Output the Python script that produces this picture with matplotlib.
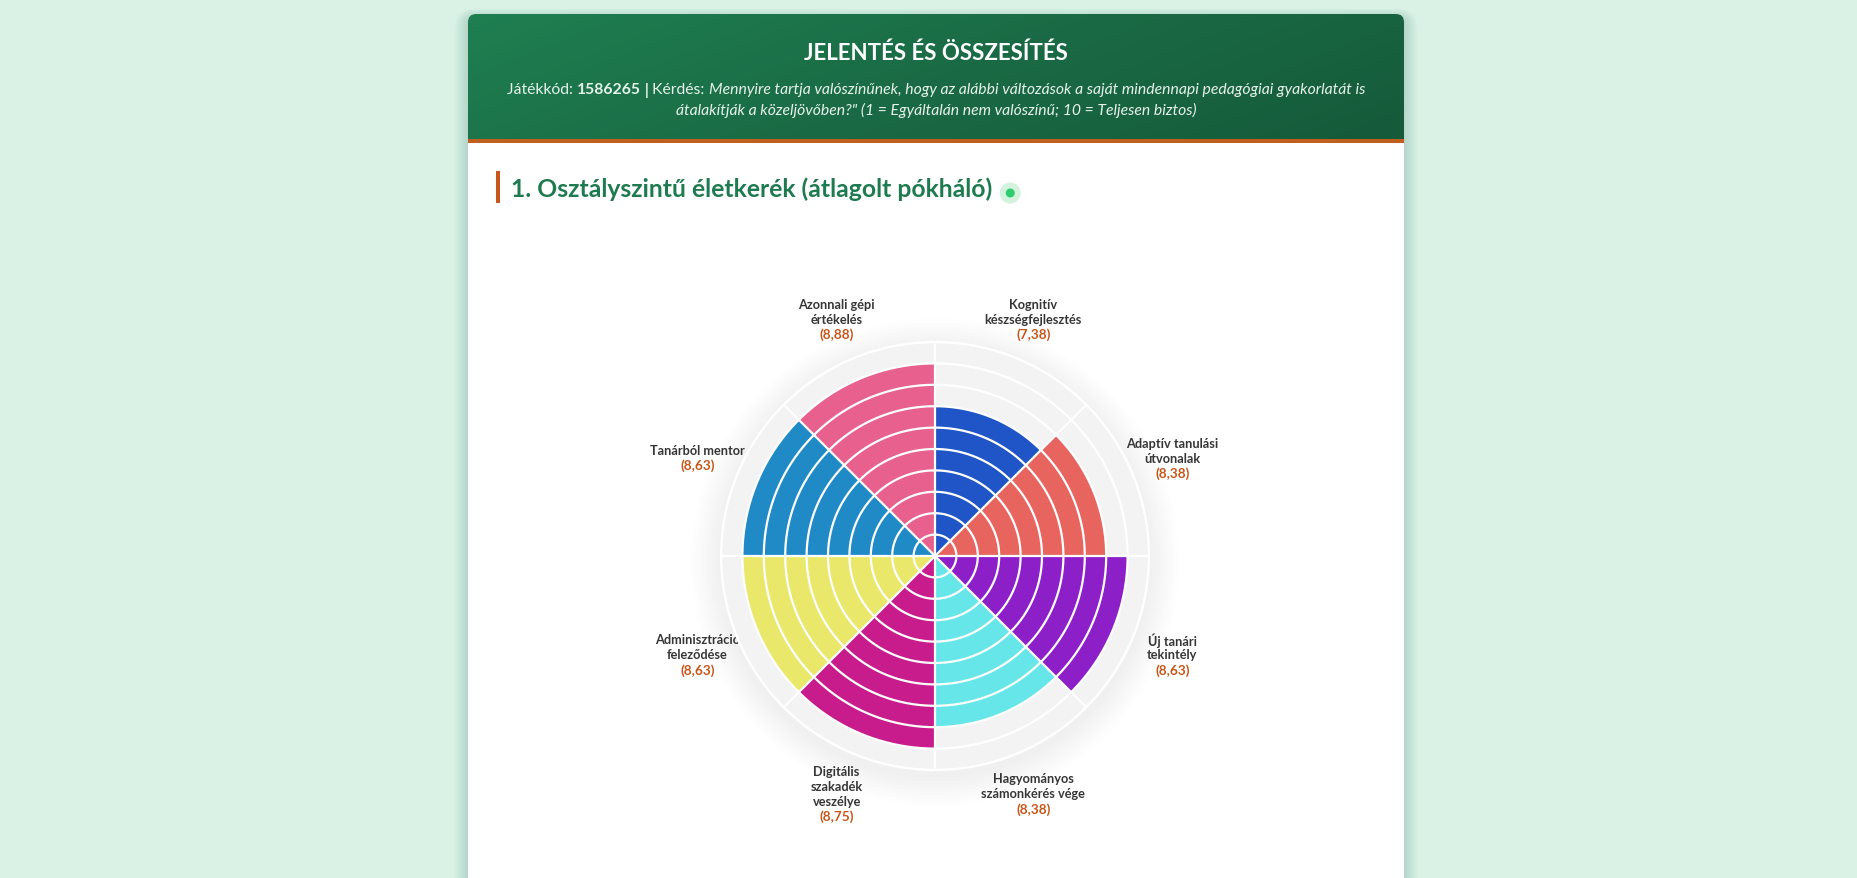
import numpy as np
import matplotlib
matplotlib.use("Agg")
import matplotlib.pyplot as plt
from matplotlib.patches import FancyBboxPatch, Rectangle, Circle
from matplotlib.colors import LinearSegmentedColormap

plt.rcParams['font.family'] = ['Lato', 'DejaVu Sans']

# ---------------- data ----------------
categories = ["Kognitív készségfejlesztés", "Adaptív tanulási útvonalak", "Új tanári tekintély",
              "Hagyományos számonkérés vége", "Digitális szakadék veszélye",
              "Adminisztráció feleződése", "Tanárból mentor", "Azonnali gépi értékelés"]
label_lines = ["Kognitív\nkészségfejlesztés", "Adaptív tanulási\nútvonalak", "Új tanári\ntekintély",
               "Hagyományos\nszámonkérés vége", "Digitális\nszakadék\nveszélye",
               "Adminisztráció\nfeleződése", "Tanárból mentor", "Azonnali gépi\nértékelés"]
scores = [7.38, 8.38, 8.63, 8.38, 8.75, 8.63, 8.63, 8.88]
colors = ["#1f55c6", "#e8645f", "#8d1fc8", "#67e6e9", "#c81c8c", "#e9e86a", "#1f8ac6", "#e8608d"]
scale_max = 10

title = "JELENTÉS ÉS ÖSSZESÍTÉS"
game_code = "1586265"
question_1 = "Mennyire tartja valószínűnek, hogy az alábbi változások a saját mindennapi pedagógiai gyakorlatát is"
question_2 = "átalakítják a közeljövőben?\" (1 = Egyáltalán nem valószínű; 10 = Teljesen biztos)"
section = "1. Osztályszintű életkerék (átlagolt pókháló)"

# ---------------- layout (pixels) ----------------
W, H = 1857, 879
card_x0, card_x1, card_top = 468, 1404, 15
header_bottom = 140
cx, cy, R = 935, 557, 214
label_r = 257
line_gap = 15

fig = plt.figure(figsize=(W / 100, H / 100), dpi=100)
fig.patch.set_facecolor('#d9f2e5')
bg = fig.add_axes([0, 0, 1, 1])
bg.set_xlim(0, W)
bg.set_ylim(H, 0)
bg.axis('off')
renderer = fig.canvas.get_renderer()

# card shadow + card
for k in range(14, 0, -1):
    bg.add_patch(FancyBboxPatch((card_x0 - k, card_top - k * 0.6 + 3), card_x1 - card_x0 + 2 * k,
                                H + 40, boxstyle="round,pad=0,rounding_size=%d" % (8 + k),
                                fc='#1d6b45', ec='none', alpha=0.012, zorder=1))
card = FancyBboxPatch((card_x0, card_top), card_x1 - card_x0, H + 40,
                      boxstyle="round,pad=0,rounding_size=8", fc='white', ec='none', zorder=2)
bg.add_patch(card)

# header gradient
clip = FancyBboxPatch((card_x0, card_top), card_x1 - card_x0, 60 + header_bottom,
                      boxstyle="round,pad=0,rounding_size=8", fc='none', ec='none',
                      transform=bg.transData)
bg.add_patch(clip)
gx, gy = np.meshgrid(np.linspace(0, 1, 300), np.linspace(0, 1, 40))
grad = 0.75 * gx + 0.25 * gy
cmap = LinearSegmentedColormap.from_list('hdr', ['#1f7f51', '#1a6b45', '#155a3a'])
im = bg.imshow(grad, cmap=cmap, extent=(card_x0, card_x1, header_bottom, card_top),
               aspect='auto', zorder=3, interpolation='bilinear')
im.set_clip_path(clip)
bg.add_patch(Rectangle((card_x0, header_bottom), card_x1 - card_x0, 4, fc='#c0601f', ec='none', zorder=4))

bg.text((card_x0 + card_x1) / 2, 53, title, color='white', fontsize=16, fontweight='bold',
        ha='center', va='center', zorder=5)


def text_width(s, **kw):
    t = bg.text(0, 0, s + '|', **kw)
    t2 = bg.text(0, 0, '|', **kw)
    w = t.get_window_extent(renderer).width - t2.get_window_extent(renderer).width
    t.remove()
    t2.remove()
    return w


def rich_line(y, pieces, x_center, **common):
    widths = [text_width(s, **common, **st) for s, st in pieces]
    x = x_center - sum(widths) / 2
    for (s, st), w in zip(pieces, widths):
        bg.text(x, y, s, ha='left', va='center', zorder=5, **common, **st)
        x += w


sub_kw = dict(color='#e6f2ea', fontsize=11.3)
rich_line(90, [("Játékkód: ", {}), (game_code, dict(fontweight='bold')),
               (" | ", dict(fontweight='bold')), ("Kérdés: ", {}),
               (question_1, dict(style='italic'))], (card_x0 + card_x1) / 2, **sub_kw)
rich_line(110, [(question_2, dict(style='italic'))], (card_x0 + card_x1) / 2, **sub_kw)

# section heading
bg.add_patch(Rectangle((496, 172), 4, 32, fc='#c8561a', ec='none', zorder=4))
ht = bg.text(511, 189, section, color='#1e7b4f', fontsize=17.8, fontweight='bold',
             ha='left', va='center', zorder=5)
hx1 = 511 + ht.get_window_extent(renderer).width
bg.add_patch(Circle((hx1 + 18, 194), 10.5, fc='#d3f3df', ec='none', zorder=4))
bg.add_patch(Circle((hx1 + 18, 194), 4.5, fc='#2fcd6f', ec='none', zorder=5))

# wheel shadow (soft)
for k in range(30, 0, -2):
    bg.add_patch(Circle((cx, cy + 6), R + k, fc='black', ec='none', alpha=0.0055, zorder=4))

# ---------------- wheel ----------------
ax = fig.add_axes([(cx - R) / W, (H - cy - R) / H, 2 * R / W, 2 * R / H], projection='polar')
ax.set_theta_zero_location('N')
ax.set_theta_direction(-1)
ax.set_facecolor('#f3f3f3')
ax.set_ylim(0, scale_max)
ax.set_xticks([])
ax.set_yticks([])
ax.grid(False)
ax.spines['polar'].set_color('white')
ax.spines['polar'].set_linewidth(1.6)

n = len(categories)
step = 2 * np.pi / n
starts = np.arange(n) * step
filled = [round(v) for v in scores]
ax.bar(starts, filled, width=step, align='edge', color=colors, edgecolor='none', zorder=2)

ring_t = np.linspace(0, 2 * np.pi, 500)
for r in range(1, scale_max + 1):
    ax.plot(ring_t, np.full_like(ring_t, r), color='white', lw=1.6, zorder=3)
for a in starts:
    ax.plot([a, a], [0, scale_max], color='white', lw=1.6, zorder=3)

# labels
for i, (lab, v) in enumerate(zip(label_lines, scores)):
    mid = starts[i] + step / 2
    lx = cx + label_r * np.sin(mid)
    ly = cy - label_r * np.cos(mid)
    lines = lab.split('\n')
    total = len(lines) + 1
    for j, s in enumerate(lines):
        yy = ly + (j - (total - 1) / 2) * line_gap
        bg.text(lx, yy, s, color='#363636', fontsize=9.2, fontweight='bold',
                ha='center', va='center', zorder=6)
    yy = ly + (total - 1 - (total - 1) / 2) * line_gap
    bg.text(lx, yy, "(%s)" % ("%.2f" % v).replace('.', ','), color='#c8561a', fontsize=9.8,
            fontweight='bold', ha='center', va='center', zorder=6)

fig.savefig('out.png', dpi=100, facecolor=fig.get_facecolor())
